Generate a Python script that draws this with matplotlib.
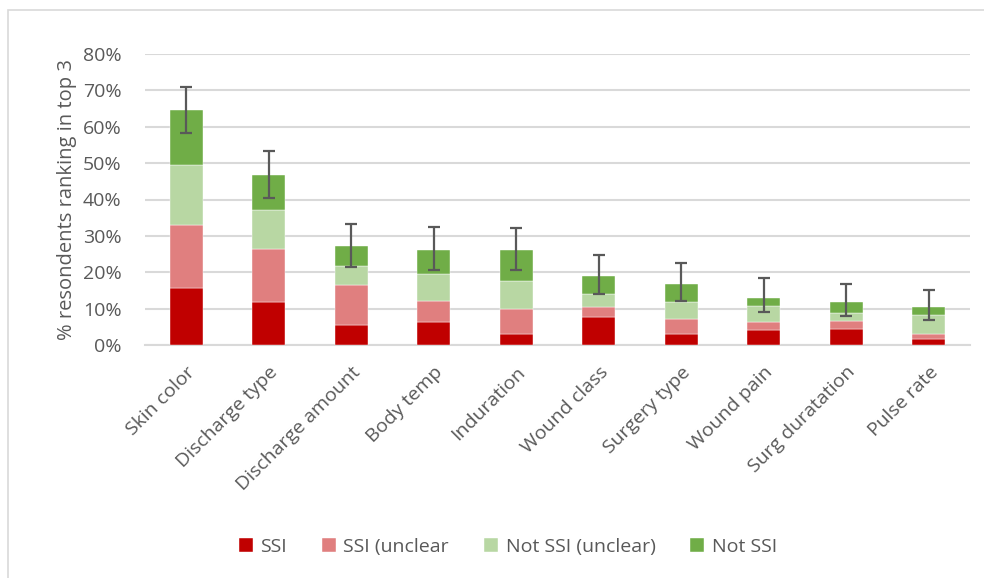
import matplotlib
matplotlib.use("Agg")
import matplotlib.pyplot as plt
from matplotlib.patches import Rectangle
import numpy as np

categories = ["Skin color", "Discharge type", "Discharge amount", "Body temp", "Induration",
              "Wound class", "Surgery type", "Wound pain", "Surg duratation", "Pulse rate"]
ssi = [15.6, 11.8, 5.4, 6.4, 3.0, 7.8, 3.1, 4.1, 4.4, 1.7]
ssi_unclear = [17.4, 14.5, 11.0, 5.7, 6.9, 2.7, 4.1, 2.3, 2.3, 1.3]
not_ssi_unclear = [16.4, 10.9, 5.4, 7.4, 7.6, 3.6, 4.6, 4.3, 2.0, 5.2]
not_ssi = [15.2, 9.5, 5.3, 6.7, 8.5, 4.8, 5.1, 2.3, 3.1, 2.3]
err_low = [6.3, 6.4, 5.6, 5.5, 5.3, 4.9, 4.7, 3.8, 3.9, 3.5]
err_high = [6.4, 6.7, 6.1, 6.3, 6.1, 5.8, 5.7, 5.3, 5.0, 4.6]

series = [("SSI", ssi, "#C00000"),
          ("SSI (unclear", ssi_unclear, "#E07F7F"),
          ("Not SSI (unclear)", not_ssi_unclear, "#B8D7A3"),
          ("Not SSI", not_ssi, "#70AD47")]

plt.rcParams['font.family'] = ['Open Sans', 'DejaVu Sans']
txt = "#595959"

fig = plt.figure(figsize=(9.84, 5.78), dpi=100)
W, H = 984, 578
ax = fig.add_axes([145 / W, 1 - 345 / H, (970 - 145) / W, (345 - 54) / H])

x = np.arange(len(categories))
bottom = np.zeros(len(categories))
for name, vals, col in series:
    v = np.array(vals)
    ax.bar(x, v, 0.4, bottom=bottom, color=col, label=name, zorder=3,
           edgecolor="white", linewidth=0.3)
    bottom += v

ax.errorbar(x, bottom, yerr=[err_low, err_high], fmt="none", ecolor="#595959",
            elinewidth=1.6, capsize=4.5, capthick=1.6, zorder=4)

ax.set_xlim(-0.5, len(categories) - 0.5)
ax.set_ylim(0, 80)
ax.set_yticks(np.arange(0, 81, 10))
ax.set_yticklabels([f"{t}%" for t in range(0, 81, 10)], color=txt, fontsize=14)
ax.yaxis.grid(True, color="#D9D9D9", linewidth=1.5, zorder=0)
ax.set_axisbelow(True)
for s in ["top", "right", "left"]:
    ax.spines[s].set_visible(False)
ax.spines["bottom"].set_color("#D9D9D9")
ax.spines["bottom"].set_linewidth(1.5)
ax.tick_params(axis="y", length=0, pad=17)
ax.tick_params(axis="x", length=0, pad=13)
ax.set_xticks(x)
ax.set_xticklabels(categories, rotation=45, ha="right", rotation_mode="anchor",
                   color=txt, fontsize=14)
ax.set_ylabel("% resondents ranking in top 3", color=txt, fontsize=14.5, labelpad=4)

leg = fig.legend(loc="center", bbox_to_anchor=(508 / W, 1 - 547 / H), ncol=4,
                 frameon=False, fontsize=14, handlelength=0.7, handleheight=0.7,
                 handletextpad=0.4, columnspacing=1.8, labelcolor=txt)

fig.patches.append(Rectangle((8 / W, -0.1), 1.2, 1 - 9.5 / H + 0.1,
                             transform=fig.transFigure, fill=False,
                             edgecolor="#D9D9D9", linewidth=1.2))

fig.savefig("out.png", dpi=100)
